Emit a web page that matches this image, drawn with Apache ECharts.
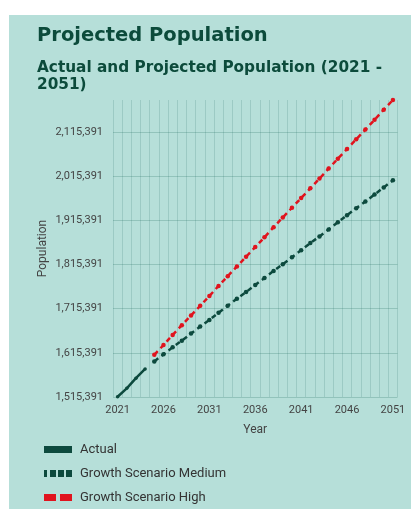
<!DOCTYPE html>
<html>
<head>
<meta charset="utf-8">
<script src="https://cdn.jsdelivr.net/npm/echarts@6/dist/echarts.min.js"></script>
<style>
  html, body { margin: 0; padding: 0; background: #fff; }
  #chart { width: 411px; height: 509px; }
</style>
</head>
<body>
<div id="chart"></div>
<script>
// years on the x axis
var years = [];
for (var y = 2021; y <= 2051; y++) years.push(String(y));

// values
var actual = [1516000, 1535000, 1558000, 1579000];
var medium = [1596000, 1612000, 1628000, 1643000, 1659000, 1675000, 1690000, 1706000, 1722000,
  1738000, 1753000, 1769000, 1785000, 1801000, 1816000, 1832000, 1848000, 1864000, 1879000,
  1895000, 1911000, 1927000, 1943000, 1958000, 1974000, 1990000, 2006000];
var high = [1611000, 1633000, 1656000, 1678000, 1700000, 1722000, 1744000, 1767000, 1789000,
  1811000, 1833000, 1855000, 1877000, 1900000, 1922000, 1944000, 1966000, 1988000, 2010000,
  2033000, 2055000, 2077000, 2099000, 2121000, 2143000, 2166000, 2188000];

var yMin = 1515391, yMax = 2188000, yStep = 100000;

// pad the series so they line up with the year categories
function place(vals, startYear) {
  var out = years.map(function () { return null; });
  vals.forEach(function (v, i) { out[startYear - 2021 + i] = v; });
  return out;
}

var dark = '#0d4a3e', red = '#e0141e';

var chart = echarts.init(document.getElementById('chart'));
chart.setOption({
  backgroundColor: '#fff',
  graphic: [{
    type: 'rect', left: 9, top: 15, z: -10,
    shape: { width: 402, height: 494 },
    style: { fill: '#b6dfd9' }
  }],
  title: [
    {
      text: 'Projected Population', left: 37, top: 26, padding: 0,
      textStyle: { fontFamily: 'DejaVu Sans', fontWeight: 'bold', fontSize: 19.5, color: '#0c4b3b' }
    },
    {
      text: 'Actual and Projected Population (2021 -\n2051)', left: 37, top: 60, padding: 0,
      textStyle: { fontFamily: 'DejaVu Sans', fontWeight: 'bold', fontSize: 15.3, lineHeight: 17, color: '#0c4b3b' }
    }
  ],
  legend: {
    orient: 'vertical', left: 44, top: 443, padding: 0,
    itemWidth: 28, itemHeight: 7, itemGap: 11,
    textStyle: { fontFamily: 'Roboto', fontSize: 13, color: '#333', padding: [0, 0, 0, 3] },
    data: [
      { name: 'Actual', icon: 'rect', itemStyle: { color: dark } },
      { name: 'Growth Scenario Medium', icon: 'path://M0,0H3V7H0Z M6,0H12V7H6Z M14,0H20V7H14Z M22,0H28V7H22Z', itemStyle: { color: dark } },
      { name: 'Growth Scenario High', icon: 'path://M0,0H12V7H0Z M16,0H28V7H16Z', itemStyle: { color: red } }
    ]
  },
  grid: { left: 113, right: 13.5, top: 100, bottom: 112 },
  xAxis: {
    type: 'category', data: years, boundaryGap: true,
    name: 'Year', nameLocation: 'middle', nameGap: 27,
    nameTextStyle: { fontFamily: 'Roboto', fontSize: 12, color: '#444' },
    axisLine: { show: false }, axisTick: { show: false },
    axisLabel: { interval: 4, fontFamily: 'Roboto', fontSize: 11, color: '#444', margin: 8 },
    splitLine: { show: true, interval: 0, lineStyle: { color: 'rgba(40,110,100,0.18)', width: 1 } }
  },
  yAxis: {
    type: 'value', min: yMin, max: yMax, interval: yStep,
    name: 'Population', nameLocation: 'middle', nameGap: 64, nameRotate: 90,
    nameMoveOverlap: false,
    nameTextStyle: { fontFamily: 'Roboto', fontSize: 12, color: '#444' },
    axisLine: { show: false }, axisTick: { show: false },
    axisLabel: {
      fontFamily: 'Roboto', fontSize: 11, color: '#444', margin: 10, showMaxLabel: false,
      formatter: function (v) { return Math.round(v).toLocaleString('en-US'); }
    },
    splitLine: { show: true, showMaxLine: false, lineStyle: { color: 'rgba(40,110,100,0.25)', width: 1 } }
  },
  series: [
    {
      name: 'Actual', type: 'line', data: place(actual, 2021),
      symbol: 'circle', symbolSize: 3.5, showSymbol: true,
      itemStyle: { color: dark }, lineStyle: { color: dark, width: 2.5 }
    },
    {
      name: 'Growth Scenario Medium', type: 'line', data: place(medium, 2025),
      symbol: 'circle', symbolSize: 4.5, showSymbol: true,
      itemStyle: { color: dark }, lineStyle: { color: dark, width: 2.5, type: [5, 4] }
    },
    {
      name: 'Growth Scenario High', type: 'line', data: place(high, 2025),
      symbol: 'circle', symbolSize: 4.5, showSymbol: true,
      itemStyle: { color: red }, lineStyle: { color: red, width: 2.5, type: [5, 4] }
    }
  ]
});
</script>
</body>
</html>
